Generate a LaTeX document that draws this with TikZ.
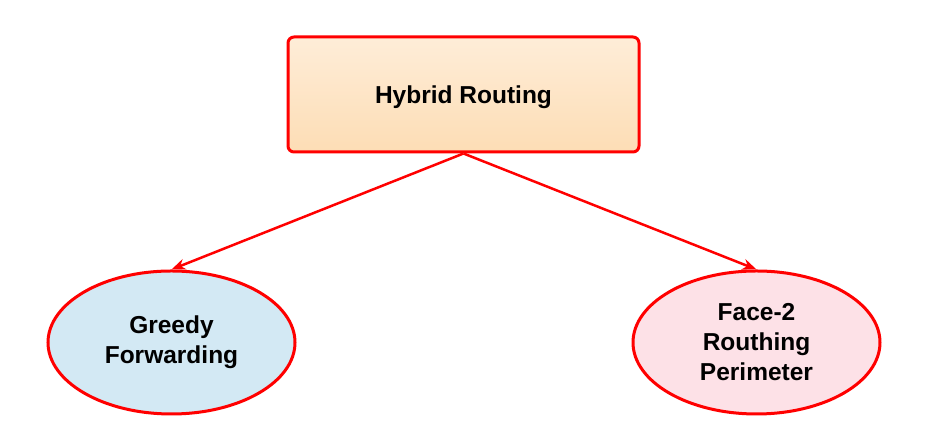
\documentclass[tikz,border=0pt]{standalone}
\usepackage{fontspec}
\setmainfont{Liberation Sans}
\usetikzlibrary{arrows.meta}
\usetikzlibrary{shapes.geometric}
\definecolor{boxtop}{HTML}{FEEDD8}
\definecolor{boxbot}{HTML}{FDDDB5}
\definecolor{leftfill}{HTML}{D3E9F4}
\definecolor{rightfill}{HTML}{FDE1E7}

\begin{document}
\begin{tikzpicture}[x=1pt,y=1pt,
        txt/.style={font=\fontsize{24.5}{30}\selectfont\bfseries, align=center},
        topbox/.style={txt, draw=red, line width=3pt, rounded corners=6pt, text depth=0pt,
            top color=boxtop, bottom color=boxbot, minimum width=351pt, minimum height=115pt},
        leaf/.style={txt, ellipse, draw=red, line width=3pt, minimum width=247pt, minimum height=143pt, inner sep=0pt},
        link/.style={red, line width=2.5pt, -{Stealth[length=14pt,width=11pt]}}]
        \useasboundingbox (0,0) rectangle (930,435);
        \node[topbox] (hybrid) at (463.5,340.5) {Hybrid Routing};
        \node[leaf, fill=leftfill] (greedy) at (171.5,92.5) {Greedy\\Forwarding};
        \node[leaf, fill=rightfill] (face) at (756.5,92.5) {Face-2\\Routhing\\Perimeter};
        \foreach \n in {greedy, face} {
                \draw[link] (hybrid.south) -- (\n.north);
            }
    \end{tikzpicture}
\end{document}
